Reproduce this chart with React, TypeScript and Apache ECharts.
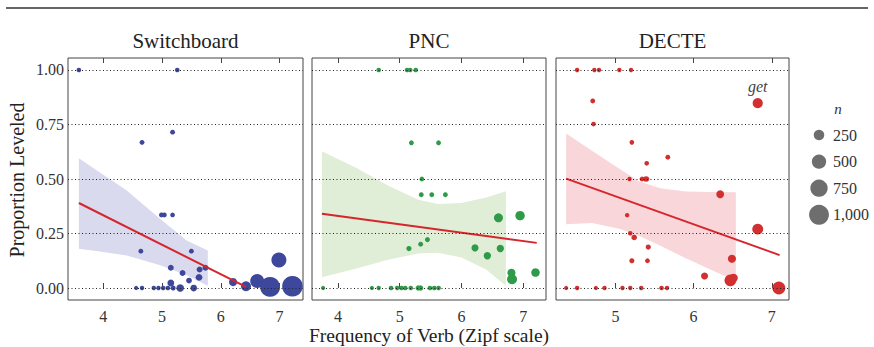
import React, { useEffect, useRef } from "react";
import * as echarts from "echarts";

// ---------- data ----------
const PANEL_TITLES = ["Switchboard", "PNC", "DECTE"];
const Y_TICKS = [0, 0.25, 0.5, 0.75, 1];
const X_TICKS_SB = [4, 5, 6, 7];
const X_TICKS_PNC = [4, 5, 6, 7];
const X_TICKS_DECTE = [5, 6, 7];

// [zipf frequency, proportion leveled, n]
const SB_POINTS = [
  [3.585, 1, 15], [5.26, 1, 15], [5.18, 0.715, 20], [4.66, 0.668, 20],
  [4.99, 0.335, 20], [5.04, 0.335, 20], [5.18, 0.335, 15], [4.64, 0.169, 20],
  [5.5, 0.169, 20], [5.15, 0.093, 50], [5.35, 0.069, 50], [5.64, 0.085, 50],
  [5.74, 0.093, 50], [5.46, 0.034, 45], [5.63, 0.049, 80], [5.15, 0.023, 80],
  [5.31, 0, 110], [5.54, 0, 75], [4.56, 0, 5], [4.66, 0, 10], [4.86, 0, 10],
  [4.94, 0, 10], [5.02, 0, 15], [5.1, 0, 15], [5.19, 0, 25],
  [6.21, 0.027, 130], [6.43, 0.008, 220], [6.62, 0.032, 470],
  [6.84, 0.005, 1000], [6.99, 0.128, 550], [7.22, 0.008, 1080],
];
const PNC_POINTS = [
  [4.66, 1, 15], [5.12, 1, 15], [5.17, 1, 15], [5.26, 1, 15],
  [5.19, 0.666, 20], [5.63, 0.666, 20], [5.36, 0.5, 20],
  [5.35, 0.428, 20], [5.52, 0.428, 20], [5.74, 0.428, 20],
  [6.6, 0.322, 170], [6.95, 0.332, 190], [5.15, 0.181, 30], [5.34, 0.201, 20],
  [5.45, 0.222, 25], [6.22, 0.184, 90], [6.42, 0.148, 100], [6.63, 0.181, 100],
  [6.81, 0.07, 130], [6.82, 0.04, 220], [7.2, 0.071, 150],
  [3.76, 0, 5], [4.55, 0, 5], [4.66, 0, 8], [4.86, 0, 15], [4.96, 0, 10],
  [5.03, 0, 15], [5.09, 0, 15], [5.18, 0, 15], [5.3, 0, 30], [5.34, 0, 30],
  [5.49, 0, 15], [5.56, 0, 15], [5.63, 0, 15],
];
const DECTE_POINTS = [
  [4.51, 1, 10], [4.73, 1, 10], [4.79, 1, 10], [5.05, 1, 10], [5.2, 1, 8],
  [4.71, 0.858, 20], [4.72, 0.752, 15], [5.21, 0.668, 15], [5.67, 0.6, 20],
  [5.4, 0.572, 15], [5.18, 0.5, 10], [5.34, 0.5, 20], [5.38, 0.5, 25],
  [5.4, 0.5, 30], [6.34, 0.43, 120], [5.15, 0.334, 10], [6.82, 0.848, 230],
  [6.82, 0.27, 270], [5.19, 0.251, 15], [5.24, 0.232, 40], [5.42, 0.188, 30],
  [5.21, 0.125, 25], [5.41, 0.125, 20], [6.49, 0.134, 130], [6.14, 0.055, 90],
  [6.51, 0.046, 150], [6.47, 0.035, 320], [7.09, 0, 400],
  [4.37, 0, 5], [4.51, 0, 10], [4.75, 0, 5], [4.86, 0, 10], [5.09, 0, 10],
  [5.19, 0, 8], [5.33, 0, 12], [5.59, 0, 15], [5.66, 0, 10],
];
const DECTE_LABELLED = { x: 6.82, y: 0.848, label: "get" };

// regression fits: [x, y] end points
const SB_FIT = [[3.585, 0.39], [6.43, 0.005]];
const PNC_FIT = [[3.74, 0.341], [7.22, 0.207]];
const DECTE_FIT = [[4.37, 0.5015], [7.1, 0.151]];

// confidence bands
const SB_BAND_X = [3.585, 4.0, 4.4, 4.97, 5.42, 5.78];
const SB_BAND_HI = [0.595, 0.52, 0.447, 0.317, 0.218, 0.172];
const SB_BAND_LO = [0.18, 0.165, 0.149, 0.104, 0.058, 0.01];
const PNC_BAND_X = [3.74, 4.3, 4.81, 5.3, 5.62, 6.0, 6.4, 6.72];
const PNC_BAND_HI = [0.627, 0.55, 0.47, 0.405, 0.385, 0.39, 0.415, 0.444];
const PNC_BAND_LO = [0.049, 0.09, 0.13, 0.158, 0.162, 0.14, 0.085, 0.01];
const DECTE_BAND_X = [4.37, 4.7, 5.06, 5.3, 5.57, 5.9, 6.2, 6.54];
const DECTE_BAND_HI = [0.709, 0.63, 0.545, 0.49, 0.457, 0.443, 0.44, 0.439];
const DECTE_BAND_LO = [0.293, 0.298, 0.271, 0.24, 0.195, 0.136, 0.087, 0.032];

const LEGEND_N = [250, 500, 750, 1000];
const LEGEND_LABELS = ["250", "500", "750", "1,000"];

// ---------- styling ----------
const FONT = "Liberation Serif";
const TEXT = "#333333";
const COLORS = ["#3d489c", "#2f9a47", "#d23030"];
const BANDS = ["#d9daee", "#e0edd7", "#f9d6da"];
const FIT_COLOR = "#d4262c";

const radiusOf = (n: number) => Math.sqrt(4 + 0.095 * n);

const GRIDS = [
  { left: 68, width: 235 },
  { left: 312, width: 234 },
  { left: 556, width: 233 },
];
const X_RANGES = [
  [3.4, 7.4],
  [3.58, 7.37],
  [4.24, 7.22],
];

export default function App() {
  const ref = useRef<HTMLDivElement>(null);

  useEffect(() => {
    if (!ref.current) return;
    document.body.style.margin = "0";
    const chart = echarts.init(ref.current, null, { renderer: "svg" });

    const points = [SB_POINTS, PNC_POINTS, DECTE_POINTS];
    const fits = [SB_FIT, PNC_FIT, DECTE_FIT];
    const bands = [
      [SB_BAND_X, SB_BAND_HI, SB_BAND_LO],
      [PNC_BAND_X, PNC_BAND_HI, PNC_BAND_LO],
      [DECTE_BAND_X, DECTE_BAND_HI, DECTE_BAND_LO],
    ];
    const xTicks = [X_TICKS_SB, X_TICKS_PNC, X_TICKS_DECTE];

    const grid = GRIDS.map((g) => ({
      left: g.left,
      width: g.width,
      top: 58,
      height: 242,
      show: true,
      borderColor: "#444",
      borderWidth: 1,
      backgroundColor: "transparent",
    }));

    const xAxis: any[] = [];
    GRIDS.forEach((_, i) => {
      xAxis.push({
        type: "value",
        gridIndex: i,
        position: "bottom",
        min: X_RANGES[i][0],
        max: X_RANGES[i][1],
        axisLine: { show: false },
        splitLine: { show: false },
        axisTick: {
          show: true,
          inside: true,
          length: 5,
          customValues: xTicks[i],
          lineStyle: { color: "#444" },
        },
        axisLabel: {
          show: true,
          customValues: xTicks[i],
          color: TEXT,
          fontFamily: FONT,
          fontSize: 16,
          margin: 8,
        },
      });
    });
    GRIDS.forEach((_, i) => {
      xAxis.push({
        type: "value",
        gridIndex: i,
        position: "top",
        min: X_RANGES[i][0],
        max: X_RANGES[i][1],
        axisLine: { show: false },
        splitLine: { show: false },
        axisTick: {
          show: true,
          inside: true,
          length: 5,
          customValues: xTicks[i],
          lineStyle: { color: "#444" },
        },
        axisLabel: { show: false },
      });
    });

    const yAxis = GRIDS.map((_, i) => ({
      type: "value",
      gridIndex: i,
      min: -0.055,
      max: 1.055,
      axisLine: { show: false },
      axisTick: { show: false },
      splitLine: { show: false },
      axisLabel: {
        show: i === 0,
        customValues: Y_TICKS,
        formatter: (v: number) => v.toFixed(2),
        color: TEXT,
        fontFamily: FONT,
        fontSize: 16,
        margin: 4,
      },
    }));

    const series: any[] = [];
    GRIDS.forEach((_, i) => {
      const [bx, bhi, blo] = bands[i];
      series.push({
        type: "custom",
        xAxisIndex: i,
        yAxisIndex: i,
        silent: true,
        z: 1,
        data: [[bx[0], bhi[0]]],
        renderItem: (_p: any, api: any) => {
          const pts: number[][] = [];
          for (let k = 0; k < bx.length; k++) pts.push(api.coord([bx[k], bhi[k]]));
          for (let k = bx.length - 1; k >= 0; k--) pts.push(api.coord([bx[k], blo[k]]));
          return {
            type: "polygon",
            shape: { points: pts },
            style: { fill: BANDS[i] },
          };
        },
      });
      series.push({
        type: "line",
        xAxisIndex: i,
        yAxisIndex: i,
        data: [],
        silent: true,
        z: 2,
        markLine: {
          silent: true,
          symbol: "none",
          label: { show: false },
          lineStyle: { color: "#222", width: 1, type: [1, 2.5] },
          data: Y_TICKS.map((v) => ({ yAxis: v })),
        },
      });
      series.push({
        type: "scatter",
        xAxisIndex: i,
        yAxisIndex: i,
        z: 3,
        data: points[i].map((p) => {
          const item: any = { value: p };
          if (i === 2 && p[0] === DECTE_LABELLED.x && p[1] === DECTE_LABELLED.y) {
            item.label = {
              show: true,
              position: "top",
              distance: 4,
              formatter: DECTE_LABELLED.label,
              fontFamily: FONT,
              fontStyle: "italic",
              fontSize: 16,
              color: "#444",
            };
          }
          return item;
        }),
        symbolSize: (v: number[]) => 2 * radiusOf(v[2]),
        itemStyle: { color: COLORS[i], opacity: 1 },
      });
      series.push({
        type: "line",
        xAxisIndex: i,
        yAxisIndex: i,
        z: 4,
        silent: true,
        symbol: "none",
        data: fits[i],
        lineStyle: { color: FIT_COLOR, width: 2 },
      });
    });

    const graphic: any[] = [
      {
        type: "line",
        shape: { x1: 6, y1: 8, x2: 868, y2: 8 },
        style: { stroke: "#333", lineWidth: 1.6 },
      },
      ...PANEL_TITLES.map((t, i) => ({
        type: "text",
        x: GRIDS[i].left + GRIDS[i].width / 2,
        y: 41,
        style: {
          text: t,
          font: `21px "${FONT}"`,
          fill: "#222",
          textAlign: "center",
          textVerticalAlign: "middle",
        },
      })),
      {
        type: "text",
        x: 17,
        y: 180,
        rotation: Math.PI / 2,
        style: {
          text: "Proportion Leveled",
          font: `20px "${FONT}"`,
          fill: "#222",
          textAlign: "center",
          textVerticalAlign: "middle",
        },
      },
      {
        type: "text",
        x: 429,
        y: 335,
        style: {
          text: "Frequency of Verb (Zipf scale)",
          font: `19.5px "${FONT}"`,
          fill: "#222",
          textAlign: "center",
          textVerticalAlign: "middle",
        },
      },
      {
        type: "text",
        x: 838,
        y: 109,
        style: {
          text: "n",
          font: `italic 15px "${FONT}"`,
          fill: "#333",
          textAlign: "center",
          textVerticalAlign: "middle",
        },
      },
    ];
    LEGEND_N.forEach((n, k) => {
      const cy = 135 + k * 26.6;
      graphic.push({
        type: "circle",
        shape: { cx: 819, cy, r: radiusOf(n) },
        style: { fill: "#6e6e6e" },
      });
      graphic.push({
        type: "text",
        x: 833,
        y: cy,
        style: {
          text: LEGEND_LABELS[k],
          font: `16px "${FONT}"`,
          fill: TEXT,
          textAlign: "left",
          textVerticalAlign: "middle",
        },
      });
    });

    chart.setOption({
      animation: false,
      grid,
      xAxis,
      yAxis,
      series,
      graphic,
    });

    return () => chart.dispose();
  }, []);

  return <div ref={ref} style={{ width: 874, height: 347 }} />;
}
